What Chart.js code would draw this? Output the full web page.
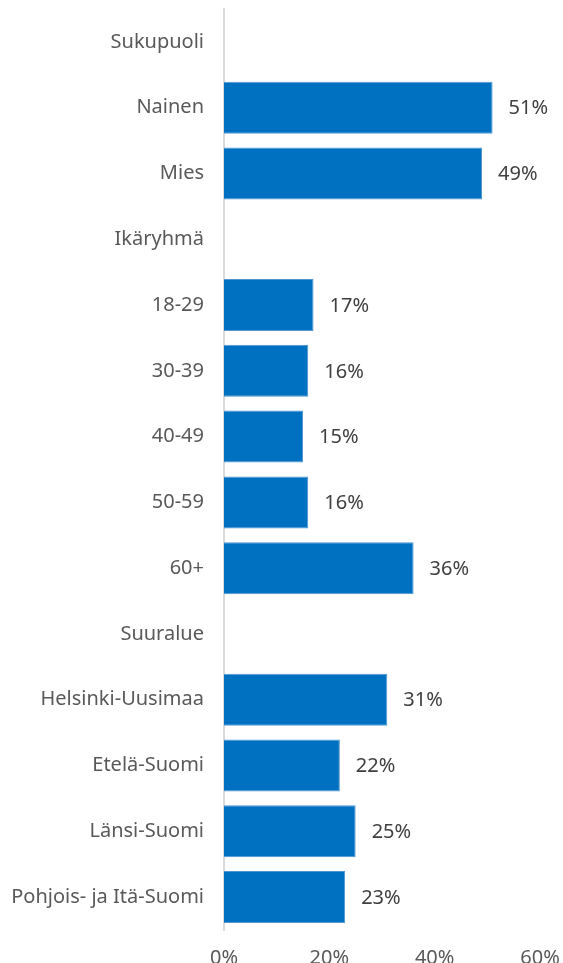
<!DOCTYPE html>
<html>
<head>
<meta charset="utf-8">
<script src="https://cdn.jsdelivr.net/npm/chart.js@4"></script>
<style>
  html, body { margin: 0; padding: 0; background: #fff; overflow: hidden; }
  #wrap { width: 563px; height: 975px; }
</style>
</head>
<body>
<div id="wrap"><canvas id="barChart"></canvas></div>
<script>
// Rows: group headers have no value
const categories = [
  "Sukupuoli", "Nainen", "Mies",
  "Ikäryhmä", "18-29", "30-39", "40-49", "50-59", "60+",
  "Suuralue", "Helsinki-Uusimaa", "Etelä-Suomi", "Länsi-Suomi", "Pohjois- ja Itä-Suomi"
];
const shares = [
  null, 51, 49,
  null, 17, 16, 15, 16, 36,
  null, 31, 22, 25, 23
];
const xTicks = [0, 20, 40, 60];

const FONT = "'Noto Sans', sans-serif";

// writes "NN%" just past the end of each bar
const valueLabels = {
  id: "valueLabels",
  afterDatasetsDraw(chart) {
    const ctx = chart.ctx;
    const meta = chart.getDatasetMeta(0);
    ctx.save();
    ctx.font = "20px " + FONT;
    ctx.fillStyle = "#404040";
    ctx.textAlign = "left";
    ctx.textBaseline = "middle";
    meta.data.forEach((bar, i) => {
      if (shares[i] == null) return;
      ctx.fillText(shares[i] + "%", bar.x + 16, bar.y + 1);
    });
    ctx.restore();
  }
};

const ctx = document.getElementById("barChart").getContext("2d");
new Chart(ctx, {
  type: "bar",
  data: {
    labels: categories,
    datasets: [{
      data: shares,
      backgroundColor: "#0070C0",
      borderColor: "#4f97d4",
      borderWidth: 1,
      borderSkipped: "start",
      categoryPercentage: 1,
      barPercentage: 0.79
    }]
  },
  options: {
    indexAxis: "y",
    responsive: true,
    maintainAspectRatio: false,
    animation: false,
    layout: { padding: { top: 9, right: 23, bottom: 7, left: 0 } },
    plugins: {
      legend: { display: false },
      tooltip: { enabled: false }
    },
    scales: {
      x: {
        min: 0,
        max: 60,
        afterBuildTicks: axis => { axis.ticks = xTicks.map(v => ({ value: v })); },
        afterFit: axis => {
          axis.height = 38;
          axis.paddingLeft = 0;
          axis.paddingRight = 0;
        },
        grid: { display: false, drawTicks: false },
        border: { display: false },
        ticks: {
          padding: 16,
          color: "#595959",
          font: { family: FONT, size: 20 },
          callback: v => v + "%"
        }
      },
      y: {
        afterFit: axis => {
          axis.width = 224;
          axis.paddingTop = 0;
          axis.paddingBottom = 0;
        },
        grid: { display: false, drawTicks: false },
        border: { display: true, color: "#d9d9d9", width: 2 },
        ticks: {
          padding: 20,
          color: "#595959",
          font: { family: FONT, size: 20 }
        }
      }
    }
  },
  plugins: [valueLabels]
});
</script>
</body>
</html>
